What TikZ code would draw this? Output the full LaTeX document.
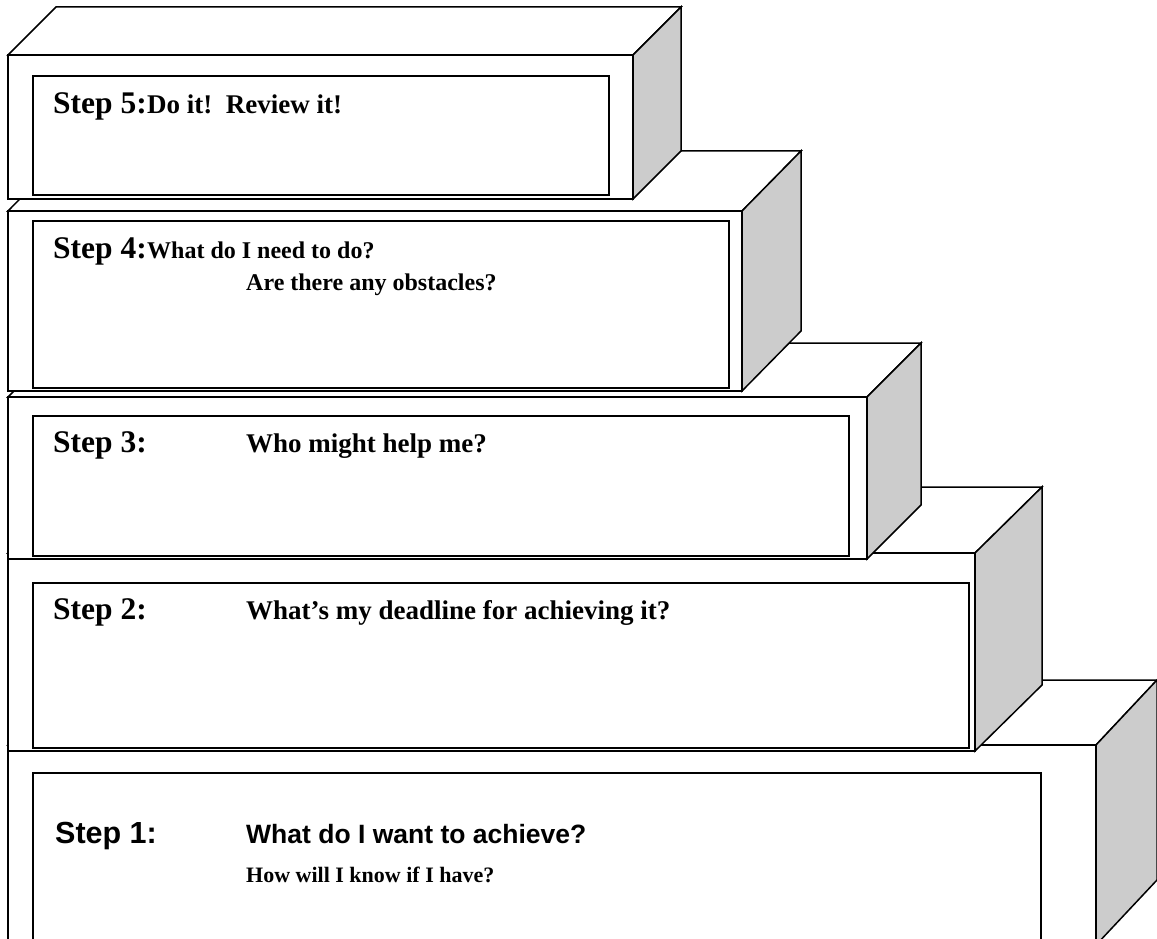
\documentclass[tikz,border=0pt]{standalone}
\usepackage{fontspec}
\setmainfont{Liberation Serif}
\newfontfamily\arialf{Liberation Sans}
\tikzset{
  face/.style={draw=black,line width=1.5pt,line join=miter,fill=white},
  sideface/.style={draw=black,line width=1.5pt,line join=miter,fill=black!20},
  inner/.style={draw=black,line width=1.8pt,fill=white},
  steplbl/.style={anchor=base west,inner sep=0pt,font=\bfseries\fontsize{31.5}{31.5}\selectfont},
  desc/.style={anchor=base west,inner sep=0pt,font=\bfseries\fontsize{#1}{#1}\selectfont},
  desc/.default=26,
  steplblsans/.style={anchor=base west,inner sep=0pt,font=\arialf\bfseries\fontsize{30.5}{30.5}\selectfont},
  descsans/.style={anchor=base west,inner sep=0pt,font=\arialf\bfseries\fontsize{26.5}{26.5}\selectfont},
}
% #1 x0, #2 y0, #3 x1, #4 y1, #5 dx, #6 dy, #7 inner right, #8 inner top, #9 inner bottom
\newcommand\stepblock[9]{%
  \fill[white] (#1,#2) rectangle (#3,#4);
  \draw[face] (#1,#2) -- ({#1+#5},{#2-#6}) -- ({#3+#5},{#2-#6}) -- (#3,#2) -- cycle;
  \draw[sideface] (#3,#2) -- ({#3+#5},{#2-#6}) -- ({#3+#5},{#4-#6}) -- (#3,#4) -- cycle;
  \draw[face] (#1,#2) rectangle (#3,#4);
  \draw[inner] (33,#8) rectangle (#7,#9);
}
\begin{document}
\begin{tikzpicture}[x=1pt,y=-1pt]
\useasboundingbox (0,0) rectangle (1157,939);
\begin{scope}
\clip (0,0) rectangle (1157,939);
% Step 1 block
\stepblock{8}{745}{1096}{945}{61}{65}{1041}{773}{960}
% Step 2 block
\stepblock{8}{553}{975}{751}{67}{66}{969}{583}{748}
% Step 3 block
\stepblock{8}{397}{867}{559}{54}{54}{849}{416}{556}
% Step 4 block
\stepblock{8}{211}{742}{391}{59}{60}{729}{221}{388}
% Step 5 block
\stepblock{8}{55}{633}{199}{48}{48}{609}{76}{195}
\end{scope}
% texts
\node[steplbl] (s5) at (53,114) {Step 5:};
\node[desc=27] (d5) at (s5.base east) {Do it!\ \ Review it!};
\node[steplbl] (s4) at (53,258) {Step 4:};
\node[desc=24] (d4) at (s4.base east) {What do I need to do?};
\node[desc=24] (d4b) at (246,290) {Are there any obstacles?};
\node[steplbl] (s3) at (53,452) {Step 3:};
\node[desc=27] (d3) at (246,452) {Who might help me?};
\node[steplbl] (s2) at (53,619) {Step 2:};
\node[desc=27] (d2) at (246,619) {What’s my deadline for achieving it?};
\node[steplblsans] (s1) at (55,843) {Step 1:};
\node[descsans] (d1) at (246,843) {What do I want to achieve?};
\node[desc=22] (d1b) at (246,882) {How will I know if I have?};
\end{tikzpicture}
\end{document}
